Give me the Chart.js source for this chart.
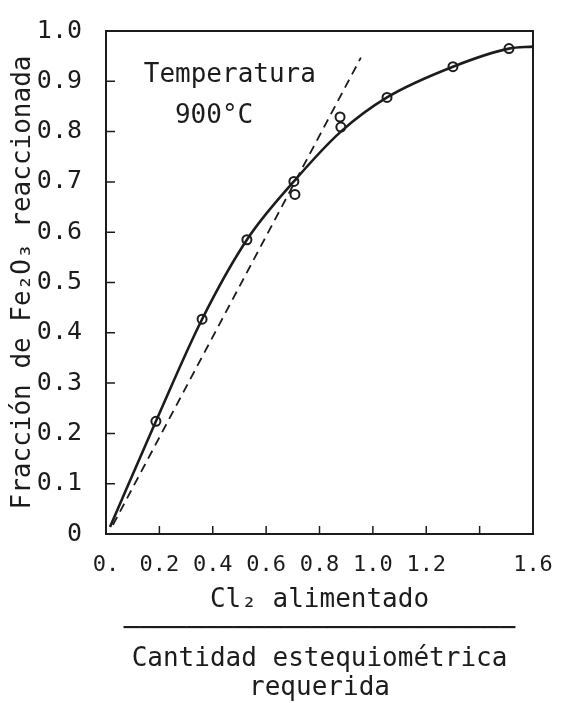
<!DOCTYPE html>
<html>
<head>
<meta charset="utf-8">
<script src="https://cdn.jsdelivr.net/npm/chart.js@4.4.0/dist/chart.umd.min.js"></script>
<style>
  html, body { margin: 0; padding: 0; background: #fff; }
  #chart { display: block; }
</style>
</head>
<body>
<canvas id="chart" width="581" height="703"></canvas>
<script>
// measured points (open circles)
const obsX = [0.187, 0.36, 0.528, 0.704, 0.708, 0.877, 0.88, 1.053, 1.30, 1.51];
const obsY = [0.224, 0.427, 0.585, 0.701, 0.675, 0.829, 0.809, 0.868, 0.929, 0.965];

// solid curve
const curveX = [0.015, 0.187, 0.36, 0.528, 0.704, 0.88, 1.053, 1.30, 1.51, 1.6];
const curveY = [0.014, 0.224, 0.427, 0.585, 0.701, 0.800, 0.868, 0.929, 0.965, 0.969];

// dashed initial slope
const tangentX = [0.026, 0.955];
const tangentY = [0.018, 0.947];

// tick labels as typed on the figure
const xTickLabels = ['0.', '0.2', '0.4', '0.6', '0.8', '1.0', '1.2', '', '1.6'];
const yTickLabels = ['0', '0.1', '0.2', '0.3', '0.4', '0.5', '0.6', '0.7', '0.8', '0.9', '1.0'];

// note inside the plot, placed in data units
const notes = ['Temperatura', '900°C'];
const noteX = [0.464, 0.405];
const noteY = [0.913, 0.831];

const ink = '#1c1c1c';
const mono = 'DejaVu Sans Mono';

const toXY = (xs, ys) => xs.map((x, i) => ({ x: x, y: ys[i] }));

// box round the plot + inward tick marks + the temperature note
const framePlugin = {
  id: 'frame',
  afterDraw(chart) {
    const ctx = chart.ctx;
    const a = chart.chartArea;
    const xs = chart.scales.x;
    const ys = chart.scales.y;
    ctx.save();
    ctx.strokeStyle = ink;
    ctx.lineWidth = 2;
    ctx.strokeRect(a.left, a.top, a.right - a.left, a.bottom - a.top);

    ctx.lineWidth = 1.5;
    ctx.beginPath();
    xs.ticks.forEach((t, i) => {
      if (i === 0 || i === xs.ticks.length - 1) return;
      const px = xs.getPixelForValue(t.value);
      ctx.moveTo(px, a.bottom);
      ctx.lineTo(px, a.bottom - 8);
    });
    ys.ticks.forEach((t, i) => {
      if (i === 0 || i === ys.ticks.length - 1) return;
      const py = ys.getPixelForValue(t.value);
      ctx.moveTo(a.left, py);
      ctx.lineTo(a.left + 9, py);
    });
    ctx.stroke();

    ctx.fillStyle = ink;
    ctx.font = '26px "' + mono + '"';
    ctx.textAlign = 'center';
    ctx.textBaseline = 'middle';
    notes.forEach((txt, i) => {
      ctx.fillText(txt, xs.getPixelForValue(noteX[i]), ys.getPixelForValue(noteY[i]));
    });
    ctx.restore();
  }
};

new Chart(document.getElementById('chart'), {
  type: 'scatter',
  data: {
    datasets: [{
      label: 'pendiente inicial',
      data: toXY(tangentX, tangentY),
      showLine: true,
      borderColor: ink,
      borderWidth: 1.8,
      borderDash: [9, 6],
      pointRadius: 0,
      fill: false
    }, {
      label: 'curva',
      data: toXY(curveX, curveY),
      showLine: true,
      borderColor: ink,
      borderWidth: 2.6,
      cubicInterpolationMode: 'monotone',
      pointRadius: 0,
      fill: false
    }, {
      label: 'experimental',
      data: toXY(obsX, obsY),
      pointRadius: 4.5,
      pointBorderWidth: 2,
      pointBorderColor: ink,
      pointBackgroundColor: '#fff'
    }]
  },
  options: {
    responsive: false,
    animation: false,
    layout: {
      padding: { left: 0, right: 48, top: 26, bottom: 0 }
    },
    plugins: {
      legend: { display: false },
      tooltip: { enabled: false }
    },
    scales: {
      x: {
        type: 'linear',
        min: 0,
        max: 1.6,
        grid: { display: false },
        border: { display: false },
        ticks: {
          stepSize: 0.2,
          autoSkip: false,
          maxRotation: 0,
          padding: 10,
          color: ink,
          font: { family: mono, size: 22 },
          callback: (v, i) => xTickLabels[i]
        },
        title: {
          display: true,
          text: ['Cl₂ alimentado', '─────────────────────────', 'Cantidad estequiométrica', 'requerida'],
          color: ink,
          font: { family: mono, size: 26, lineHeight: 1.13 },
          padding: { top: 0, bottom: 0 }
        },
        afterFit: (scale) => { scale.height = 169; }
      },
      y: {
        min: 0,
        max: 1,
        grid: { display: false },
        border: { display: false },
        ticks: {
          stepSize: 0.1,
          padding: 16,
          color: ink,
          font: { family: mono, size: 25 },
          callback: (v, i) => yTickLabels[i]
        },
        title: {
          display: true,
          text: 'Fracción de Fe₂O₃ reaccionada',
          color: ink,
          font: { family: mono, size: 26, lineHeight: 1.15 },
          padding: { top: 8, bottom: 0 }
        },
        afterFit: (scale) => { scale.width = 106; }
      }
    }
  },
  plugins: [framePlugin]
});
</script>
</body>
</html>
